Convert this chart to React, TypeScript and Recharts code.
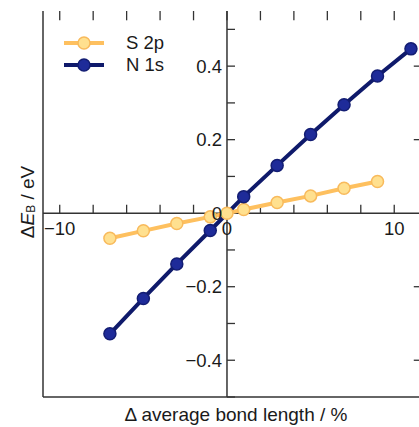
import React from "react";
import {
  LineChart,
  Line,
  XAxis,
  YAxis,
  ReferenceLine,
  ReferenceDot,
  Legend,
} from "recharts";

// change in average bond length (%)
const xS2p = [-7, -5, -3, -1, 0, 1, 3, 5, 7, 9];
const yS2p = [-0.068, -0.048, -0.028, -0.01, 0, 0.01, 0.029, 0.047, 0.068, 0.086];

const xN1s = [-7, -5, -3, -1, 1, 3, 5, 7, 9, 11];
const yN1s = [-0.328, -0.232, -0.138, -0.047, 0.045, 0.13, 0.214, 0.295, 0.373, 0.447];

const xTicks = [-10, -8, -6, -4, -2, 0, 2, 4, 6, 8, 10];
const xTickLabels = [-10, 0, 10];
const yTicks = [-0.5, -0.4, -0.3, -0.2, -0.1, 0.1, 0.2, 0.3, 0.4, 0.5];
const yTickLabels = [-0.4, -0.2, 0, 0.2, 0.4];
const yFrameTicks = [-0.4, -0.2, 0.2, 0.4];

const X_DOMAIN: [number, number] = [-11, 11.6];
const Y_DOMAIN: [number, number] = [-0.5, 0.55];

const toPoints = (xs: number[], ys: number[]) =>
  xs.map((x, i) => ({ x, y: ys[i] }));

const series = [
  {
    name: "S 2p",
    data: toPoints(xS2p, yS2p),
    line: "#FEC05F",
    fill: "#FFE08F",
    dot: "#F8BA5C",
  },
  {
    name: "N 1s",
    data: toPoints(xN1s, yN1s),
    line: "#0F1A6B",
    fill: "#1E2B99",
    dot: "#131D73",
  },
];

const AXIS = "#333";
const TEXT = "#1a1a1a";
// tick lengths in data units (about 8 px)
const Y_TICK = 0.023;
const X_TICK = 0.48;

const fmt = (v: number) => (v < 0 ? `\u2212${Math.abs(v)}` : `${v}`);

const renderLegend = () => (
  <div style={{ display: "flex", flexDirection: "column" }}>
    {series.map((s) => (
      <div key={s.name} style={{ display: "flex", alignItems: "center", height: 22 }}>
        <svg width={42} height={22}>
          <line x1={1} y1={11} x2={41} y2={11} stroke={s.line} strokeWidth={4} />
          <circle cx={21} cy={11} r={6} fill={s.fill} stroke={s.dot} strokeWidth={1.5} />
        </svg>
        <span style={{ marginLeft: 21, fontSize: 18.5, color: TEXT, lineHeight: "22px" }}>
          {s.name}
        </span>
      </div>
    ))}
  </div>
);

const tickSeg = (key: string, a: { x: number; y: number }, b: { x: number; y: number }) => (
  <ReferenceLine
    key={key}
    xAxisId="b"
    yAxisId="l"
    segment={[a, b]}
    stroke={AXIS}
    strokeWidth={1.3}
  />
);

export default function App() {
  return (
    <div
      style={{
        position: "absolute",
        left: 0,
        top: 0,
        width: 419,
        height: 427,
        overflow: "hidden",
        background: "#fff",
        fontFamily: '"Liberation Sans", Arial, sans-serif',
      }}
    >
      <LineChart
        width={421}
        height={427}
        margin={{ top: 11, right: 0, bottom: 0, left: 0 }}
      >
        <XAxis
          xAxisId="b"
          dataKey="x"
          type="number"
          domain={X_DOMAIN}
          allowDataOverflow
          height={30}
          tick={false}
          tickLine={false}
          axisLine={{ stroke: AXIS, strokeWidth: 1.5 }}
          label={{
            content: ({ viewBox }: any) => (
              <text
                x={viewBox.x + viewBox.width / 2 + 4}
                y={viewBox.y + 24}
                textAnchor="middle"
                fontSize={19}
                fill={TEXT}
              >
                {"\u0394 average bond length / %"}
              </text>
            ),
          }}
        />
        <XAxis
          xAxisId="t"
          dataKey="x"
          type="number"
          orientation="top"
          domain={X_DOMAIN}
          allowDataOverflow
          height={0}
          tick={false}
          tickLine={false}
          axisLine={{ stroke: AXIS, strokeWidth: 1.5 }}
        />
        <YAxis
          yAxisId="l"
          type="number"
          domain={Y_DOMAIN}
          allowDataOverflow
          width={43}
          tick={false}
          tickLine={false}
          axisLine={{ stroke: AXIS, strokeWidth: 1.5 }}
          label={{
            content: ({ viewBox }: any) => {
              const cx = viewBox.x + 27;
              const cy = viewBox.y + viewBox.height / 2 - 2;
              return (
                <text
                  x={cx}
                  y={cy}
                  transform={`rotate(-90, ${cx}, ${cy})`}
                  textAnchor="middle"
                  dominantBaseline="central"
                  fontSize={19}
                  fill={TEXT}
                >
                  {"\u0394"}
                  <tspan fontStyle="italic">E</tspan>
                  <tspan fontSize={12} dy={4}>
                    B
                  </tspan>
                  <tspan dy={-4}>{" / eV"}</tspan>
                </text>
              );
            },
          }}
        />
        <YAxis
          yAxisId="r"
          type="number"
          orientation="right"
          domain={Y_DOMAIN}
          allowDataOverflow
          width={0}
          tick={false}
          tickLine={false}
          axisLine={{ stroke: AXIS, strokeWidth: 1.5 }}
        />

        {/* axes crossing at the origin */}
        <ReferenceLine xAxisId="b" yAxisId="l" x={0} stroke={AXIS} strokeWidth={1.5} />
        <ReferenceLine xAxisId="b" yAxisId="l" y={0} stroke={AXIS} strokeWidth={1.5} />
        {xTicks
          .filter((t) => t !== 0)
          .map((t) => tickSeg(`xt${t}`, { x: t, y: 0 }, { x: t, y: Y_TICK }))}
        {yTicks.map((t) => tickSeg(`yt${t}`, { x: 0, y: t }, { x: X_TICK, y: t }))}

        {/* ticks on the frame: top edge and right edge, pointing inward */}
        {xTicks.map((t) =>
          tickSeg(
            `ft${t}`,
            { x: t, y: Y_DOMAIN[1] },
            { x: t, y: Y_DOMAIN[1] - Y_TICK * 1.1 }
          )
        )}
        {yFrameTicks.map((t) =>
          tickSeg(
            `fr${t}`,
            { x: X_DOMAIN[1], y: t },
            { x: X_DOMAIN[1] - X_TICK * 0.9, y: t }
          )
        )}

        {series.map((s) => (
          <Line
            key={s.name}
            xAxisId="b"
            yAxisId="l"
            data={s.data}
            dataKey="y"
            name={s.name}
            stroke={s.line}
            strokeWidth={4}
            dot={{ r: 6, fill: s.fill, stroke: s.dot, strokeWidth: 1.5 }}
            activeDot={false}
            isAnimationActive={false}
          />
        ))}

        {xTickLabels.map((t) => (
          <ReferenceDot
            key={`xl${t}`}
            xAxisId="b"
            yAxisId="l"
            x={t}
            y={0}
            r={1}
            fill="none"
            stroke="none"
            label={{ value: fmt(t), position: "bottom", offset: 8, fill: TEXT, fontSize: 18.5 }}
          />
        ))}
        {yTickLabels.map((t) => (
          <ReferenceDot
            key={`yl${t}`}
            xAxisId="b"
            yAxisId="l"
            x={0}
            y={t}
            r={1}
            fill="none"
            stroke="none"
            label={{ value: fmt(t), position: "left", offset: 4, fill: TEXT, fontSize: 18.5 }}
          />
        ))}

        <Legend
          layout="vertical"
          align="center"
          verticalAlign="middle"
          content={renderLegend}
          wrapperStyle={{ position: "absolute", left: 63, top: 32, width: "auto" }}
        />
      </LineChart>
    </div>
  );
}
